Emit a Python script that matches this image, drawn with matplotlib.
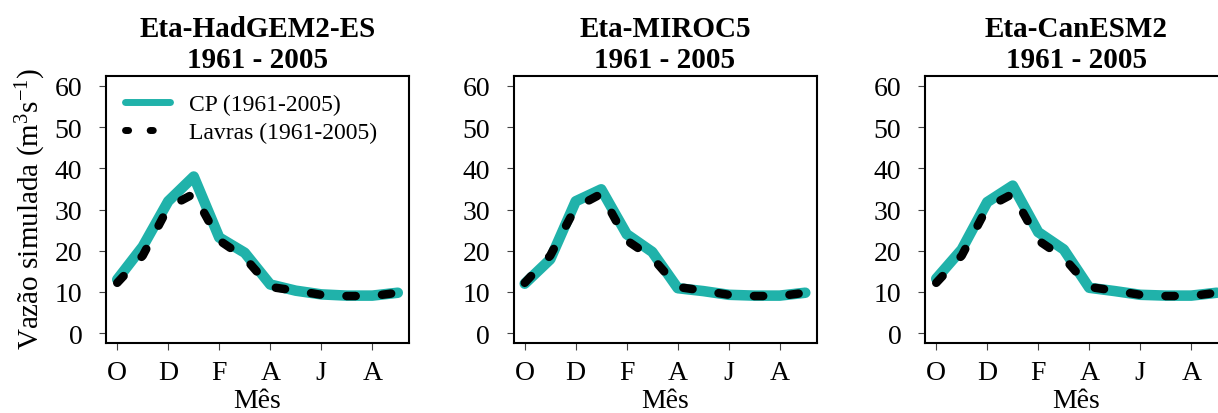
import matplotlib
matplotlib.use("Agg")
import matplotlib.pyplot as plt
from matplotlib.lines import Line2D

plt.rcParams["font.family"] = ["Liberation Serif", "DejaVu Serif"]
plt.rcParams["mathtext.fontset"] = "custom"
plt.rcParams["mathtext.rm"] = "Liberation Serif"
plt.rcParams["mathtext.it"] = "Liberation Serif:italic"
plt.rcParams["mathtext.bf"] = "Liberation Serif:bold"

# Monthly mean simulated discharge, hydrological year Oct -> Sep
months = list(range(1, 13))
tick_months = [1, 3, 5, 7, 9, 11]
tick_labels = ["O", "D", "F", "A", "J", "A"]

lavras = [12.2, 18.8, 30.5, 33.8, 22.5, 18.3, 11.2, 10.3, 9.3, 9.0, 9.0, 9.8]
cp_hadgem = [13.0, 21.0, 32.0, 38.0, 23.2, 19.5, 11.8, 10.3, 9.4, 9.1, 9.1, 9.8]
cp_miroc = [12.0, 17.9, 32.0, 34.9, 24.0, 19.7, 10.9, 10.2, 9.3, 9.1, 9.1, 9.8]
cp_canesm = [13.2, 20.3, 31.8, 35.8, 24.5, 20.3, 11.0, 10.2, 9.3, 9.1, 9.1, 9.8]

models = ["Eta-HadGEM2-ES", "Eta-MIROC5", "Eta-CanESM2"]
cp_series = [cp_hadgem, cp_miroc, cp_canesm]
period = "1961 - 2005"

TEAL = "#20B2AA"
W, H = 1218, 414
fig = plt.figure(figsize=(W / 100, H / 100), dpi=100)

lefts = [106, 513.5, 925]
ax_w, ax_top, ax_bot = 303, 77, 344

for i, (left, model, cp) in enumerate(zip(lefts, models, cp_series)):
    ax = fig.add_axes([left / W, 1 - ax_bot / H, ax_w / W, (ax_bot - ax_top) / H])
    ax.plot(months, cp, color=TEAL, lw=7.6, solid_capstyle="round",
            solid_joinstyle="round", zorder=2)
    ax.plot(months, lavras, color="black", lw=6.1, linestyle=(0, (1.1, 3.1)),
            dash_capstyle="round", solid_joinstyle="round", zorder=3)
    ax.set_xlim(0.56, 12.44)
    ax.set_ylim(-2.4, 62.4)
    ax.set_xticks(tick_months)
    ax.set_xticklabels(tick_labels)
    ax.set_yticks(range(0, 61, 10))
    ax.tick_params(axis="both", labelsize=20, length=5, width=0.8,
                   color="#444444")
    ax.tick_params(axis="y", pad=12)
    ax.tick_params(axis="x", pad=7)
    for sp in ax.spines.values():
        sp.set_linewidth(1.5)
        sp.set_color("black")

    cx = (left + ax_w / 2) / W
    fig.text(cx, 1 - 37 / H, model, ha="center", va="baseline",
             fontsize=21, fontweight="bold")
    fig.text(cx, 1 - 68 / H, period, ha="center", va="baseline",
             fontsize=21, fontweight="bold")
    fig.text(cx, 1 - 408 / H, "Mês", ha="center", va="baseline", fontsize=20)

    if i == 0:
        handles = [
            Line2D([], [], color=TEAL, lw=5.0, solid_capstyle="round"),
            Line2D([], [], color="black", lw=5.0, linestyle=(0, (0.45, 3.1)),
                   dash_capstyle="round"),
        ]
        ax.legend(handles, ["CP (1961-2005)", "Lavras (1961-2005)"],
                  loc="upper left", bbox_to_anchor=(0.063, 0.935),
                  frameon=False, fontsize=17, handlelength=1.9,
                  handletextpad=0.8, labelspacing=0.3, borderpad=0,
                  borderaxespad=0)

fig.text(31 / W, 1 - 208.5 / H, "Vazão simulada (m$^3$s$^{-1}$)",
         rotation=90, ha="center", va="center", fontsize=21)

fig.savefig("out.png", dpi=100)
